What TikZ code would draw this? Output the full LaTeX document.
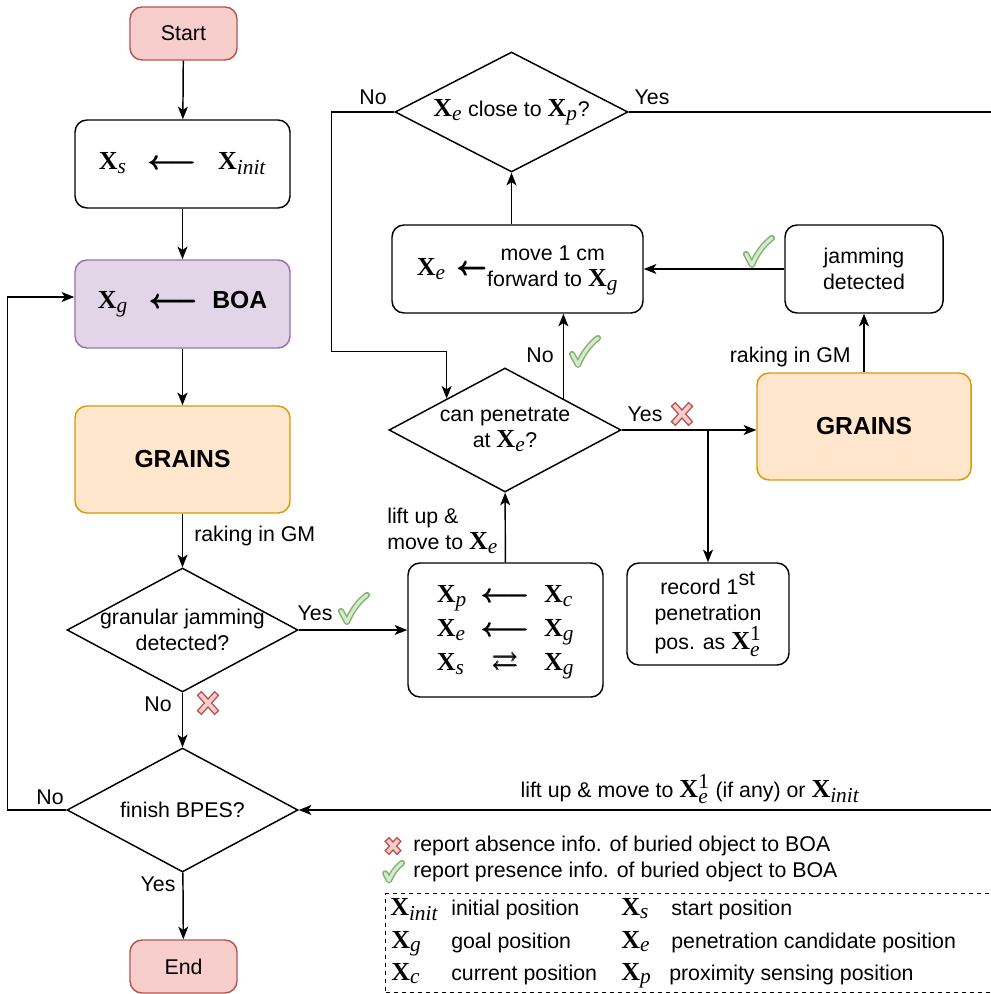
\documentclass[tikz,border=0pt]{standalone}
\usepackage{fix-cm}
\usepackage{amsmath,amssymb}
\usepackage[no-math]{fontspec}
\setmainfont{Liberation Sans}
\newfontfamily\srf{Liberation Serif}
\usetikzlibrary{arrows.meta,shapes.geometric,calc}
\DeclareMathSizes{16}{19.5}{16}{12}
\definecolor{redF}{HTML}{F8CECC}
\definecolor{redD}{HTML}{B85450}
\definecolor{purF}{HTML}{E1D5E7}
\definecolor{purD}{HTML}{9673A6}
\definecolor{orF}{HTML}{FFE6CC}
\definecolor{orD}{HTML}{D79B00}
\definecolor{grF}{HTML}{D5E8D4}
\definecolor{grD}{HTML}{82B366}
\newcommand{\bX}{\text{\fontsize{19.5}{20}\selectfont\srf\bfseries X}}
\newcommand{\XX}[1]{\bX_{\text{\srf\itshape #1}}}
\newcommand{\lar}{\pmb{\boldsymbol{\longleftarrow}}}
\newcommand{\bfnt}{\fontsize{18.5}{22}\selectfont\bfseries}
\tikzset{
  base/.style={line width=1.1pt, font=\fontsize{16}{19.5}\selectfont},
  box/.style={base, draw, rounded corners=9pt, align=center, inner sep=0pt},
  sz/.style 2 args={minimum width=#1*0.75pt, minimum height=#2*0.75pt},
  dia/.style={base, draw, diamond, inner sep=0pt},
  arr/.style={line width=1.1pt, -{Stealth[length=9.5pt,width=7.5pt,inset=2.5pt]}},
  txt/.style={font=\fontsize{16}{19.5}\selectfont, inner sep=0pt},
  xmk/.pic={
    \draw[redD, line width=5pt] (-9,-10) -- (9,10) (9,-10) -- (-9,10);
    \draw[redF, line width=2.8pt, shorten <=1.1pt, shorten >=1.1pt] (-9,-10) -- (9,10);
    \draw[redF, line width=2.8pt, shorten <=1.1pt, shorten >=1.1pt] (9,-10) -- (-9,10);
  },
  chk/.pic={
    \draw[grD, line width=4.6pt, line join=round, line cap=round] (-12,2) -- (-6,13) .. controls (-1,1) and (6,-8) .. (14,-14);
    \draw[grF, line width=2.4pt, line join=round, line cap=round] (-12,2) -- (-6,13) .. controls (-1,1) and (6,-8) .. (14,-14);
  }
}
\begin{document}
\begin{tikzpicture}[x=0.75pt,y=-0.75pt]
\useasboundingbox (0,0) rectangle (990,994);

% left column
\node[box, fill=redF, draw=redD, sz={107}{53}] (start) at (183.5,33.5) {Start};
\node[box, sz={215}{88}] (xs) at (182.5,164) {$\XX{s}\;\;\lar\;\;\XX{init}$};
\node[box, fill=purF, draw=purD, sz={215}{88}] (xg) at (182.5,304) {$\XX{g}\;\;\lar\;\;${\bfnt BOA}};
\node[box, fill=orF, draw=orD, sz={215}{107}] (grains) at (182.5,459.5) {\bfnt GRAINS};
\node[dia, sz={231}{124}] (gj) at (182.5,630) {};
\node[txt, align=center] (gjt) at (gj.center) {granular jamming\\detected?};
\node[dia, sz={231}{124}] (fin) at (182.5,810) {};
\node[txt] (fint) at (fin.center) {finish BPES?};
\node[box, fill=redF, draw=redD, sz={107}{53}] (end) at (183.5,966.5) {End};

% right part
\node[dia, sz={233}{120}] (top) at (511.5,112) {};
\node[txt] (topt) at (top.center) {$\XX{e}$ close to $\XX{p}$?};
\node[box, sz={251}{88}] (mv) at (517.5,269) {$\XX{e}\,\pmb{\boldsymbol{\leftarrow}}$\begin{tabular}{@{}c@{}}move 1 cm\\forward to $\XX{g}$\end{tabular}};
\node[box, sz={158}{88}] (jam) at (864,269) {jamming\\detected};
\node[box, fill=orF, draw=orD, sz={214}{107}] (grR) at (864,426.5) {\bfnt GRAINS};
\node[dia, sz={232}{124}] (pen) at (505,430) {};
\node[txt, align=center] (pent) at (pen.center) {can penetrate\\at $\XX{e}$?};
\node[box, sz={195}{134}] (xp) at (505.5,630) {{\def\arraystretch{1.3}$\begin{array}{l@{\;\;}c@{\;\;}l}\XX{p} & \lar & \XX{c}\\ \XX{e} & \lar & \XX{g}\\ \XX{s} & \pmb{\rightleftarrows} & \XX{g}\end{array}$}};
\node[box, sz={162}{102}] (rec) at (708,614) {record 1\textsuperscript{st}\\penetration\\pos. as $\bX^{\text{\srf 1}}_{\text{\srf\itshape e}}$};

% connectors
\draw[arr] (start) -- (xs);
\draw[arr] (xs) -- (xg);
\draw[arr] (xg) -- (grains);
\draw[arr] (grains) -- (gj);
\draw[arr] (gj) -- (fin);
\draw[arr] (fin) -- (end);
\draw[arr] (gj.east) -- (xp.west);
\coordinate (xgin) at ($(xg.west)+(0,-7)$);
\draw[arr] (fin.west) -- ++(-59,0) |- (xgin);
\draw[arr] (xp) -- (pen);
\draw[arr] (pen.east) -- (grR.west |- pen.east);
\coordinate (br) at (rec.north |- pen.east);
\draw[arr] (br) -- (rec.north);
\draw[arr] (grR) -- (jam);
\draw[arr] (jam) -- (mv);
\draw[arr] (pen.north east) -- (pen.north east |- mv.south);
\draw[arr] (top.south |- mv.north) -- (top.south);
\draw[arr] (top.west) -- ++(-63,0) |- ($(pen.north west)+(0,-47)$) -- (pen.north west);
\coordinate (farR) at (997,0);
\draw[arr] (top.east) -- (top.east -| farR) |- (fin.east);

% labels
\node[txt, anchor=west] (l1) at (194,536) {raking in GM};
\node[txt] (l2) at (315,613) {Yes};
\pic at (353,609) {chk};
\node[txt] (l3) at (158,704) {No};
\pic at (208,703) {xmk};
\node[txt] (l4) at (50,797) {No};
\node[txt] (l5) at (158,884) {Yes};
\node[txt] (l6) at (373,97) {No};
\node[txt] (l7) at (652,97) {Yes};
\node[txt, anchor=west, align=left] (l8) at (387,531) {lift up \&\\move to $\XX{e}$};
\node[txt] (l9) at (540,355) {No};
\pic at (584,352) {chk};
\node[txt] (l10) at (645,414) {Yes};
\pic at (682,414) {xmk};
\node[txt, anchor=east] (l11) at (851,357) {raking in GM};
\pic at (758,252) {chk};
\node[txt] (l12) at (690,789) {lift up \& move to $\bX^{\text{\srf 1}}_{\text{\srf\itshape e}}$ (if any) or $\XX{init}$};

% legend
\pic[scale=0.7] at (393,846) {xmk};
\node[txt, anchor=west] (lg1) at (413,846) {report absence info. of buried object to BOA};
\pic[scale=0.65] at (393,872) {chk};
\node[txt, anchor=west] (lg2) at (413,872) {report presence info. of buried object to BOA};
\node[draw, dashed, line width=1pt, anchor=north west, minimum width=620*0.75pt, minimum height=99*0.75pt] (leg) at (385,893) {};
\node[txt, anchor=base west] (s1) at (390,915) {$\XX{init}$};
\node[txt, anchor=base west] (t1) at (451,915) {initial position};
\node[txt, anchor=base west] (s2) at (621,915) {$\XX{s}$};
\node[txt, anchor=base west] (t2) at (671,915) {start position};
\node[txt, anchor=base west] (s3) at (391,948) {$\XX{g}$};
\node[txt, anchor=base west] (t3) at (451,948) {goal position};
\node[txt, anchor=base west] (s4) at (621,948) {$\XX{e}$};
\node[txt, anchor=base west] (t4) at (671,948) {penetration candidate position};
\node[txt, anchor=base west] (s5) at (391,980) {$\XX{c}$};
\node[txt, anchor=base west] (t5) at (451,980) {current position};
\node[txt, anchor=base west] (s6) at (621,980) {$\XX{p}$};
\node[txt, anchor=base west] (t6) at (669,980) {proximity sensing position};
\end{tikzpicture}
\end{document}
